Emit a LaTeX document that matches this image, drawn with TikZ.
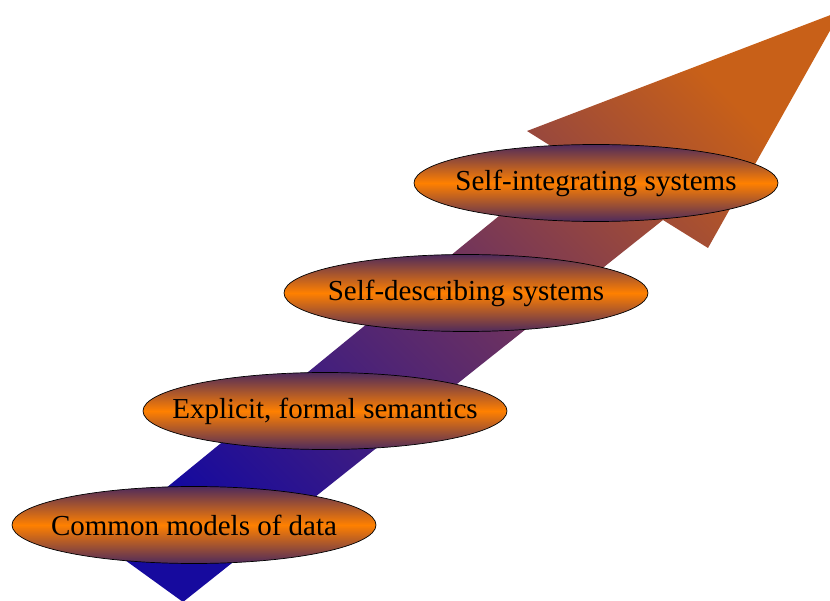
\documentclass[tikz,border=0pt]{standalone}
\usepackage{fontspec}
\setmainfont{Liberation Serif}
\usetikzlibrary{shapes.geometric}
\definecolor{arrowblue}{RGB}{22,10,158}
\definecolor{arrowmid}{RGB}{105,48,98}
\definecolor{arroworange}{RGB}{200,96,24}
\definecolor{ovaledge}{RGB}{78,42,92}
\definecolor{ovalmid}{RGB}{255,128,0}
\tikzset{
  stage/.style={ellipse, draw=black, line width=0.7pt,
    top color=ovaledge, bottom color=ovaledge, middle color=ovalmid,
    minimum width=364pt, minimum height=77pt, inner sep=0pt,
    font=\fontsize{29}{33}\selectfont, text=black},
  bigarrow/.style={top color=arroworange, bottom color=arrowblue,
    middle color=arrowmid, shading angle=-45}
}
\newcommand{\zw}[1]{\makebox[0pt]{#1}}
\begin{document}
\begin{tikzpicture}[x=1pt,y=-1pt]
\fill[white] (0,0) rectangle (830,601);
\useasboundingbox (0,0) rectangle (830,601);
\clip (0,0) rectangle (830,601);
% arrow
\coordinate (bl) at (100,542);
\coordinate (bb) at (183,602);
\coordinate (ri) at (663,220);
\coordinate (rb) at (708,248);
\coordinate (tip) at (841,11);
\coordinate (lb) at (527,131);
\coordinate (li) at (570,158);
\shade[bigarrow] (bl) -- (bb) -- (ri) -- (rb) -- (tip) -- (lb) -- (li) -- cycle;
% stages
\node[stage] (s1) at (194,525) {\zw{Common models of data}};
\node[stage] (s2) at (325,411) {\zw{Explicit, formal semantics}};
\node[stage] (s3) at (466,293) {\zw{Self-describing systems}};
\node[stage] (s4) at (596,183) {\zw{Self-integrating systems}};
\end{tikzpicture}
\end{document}
